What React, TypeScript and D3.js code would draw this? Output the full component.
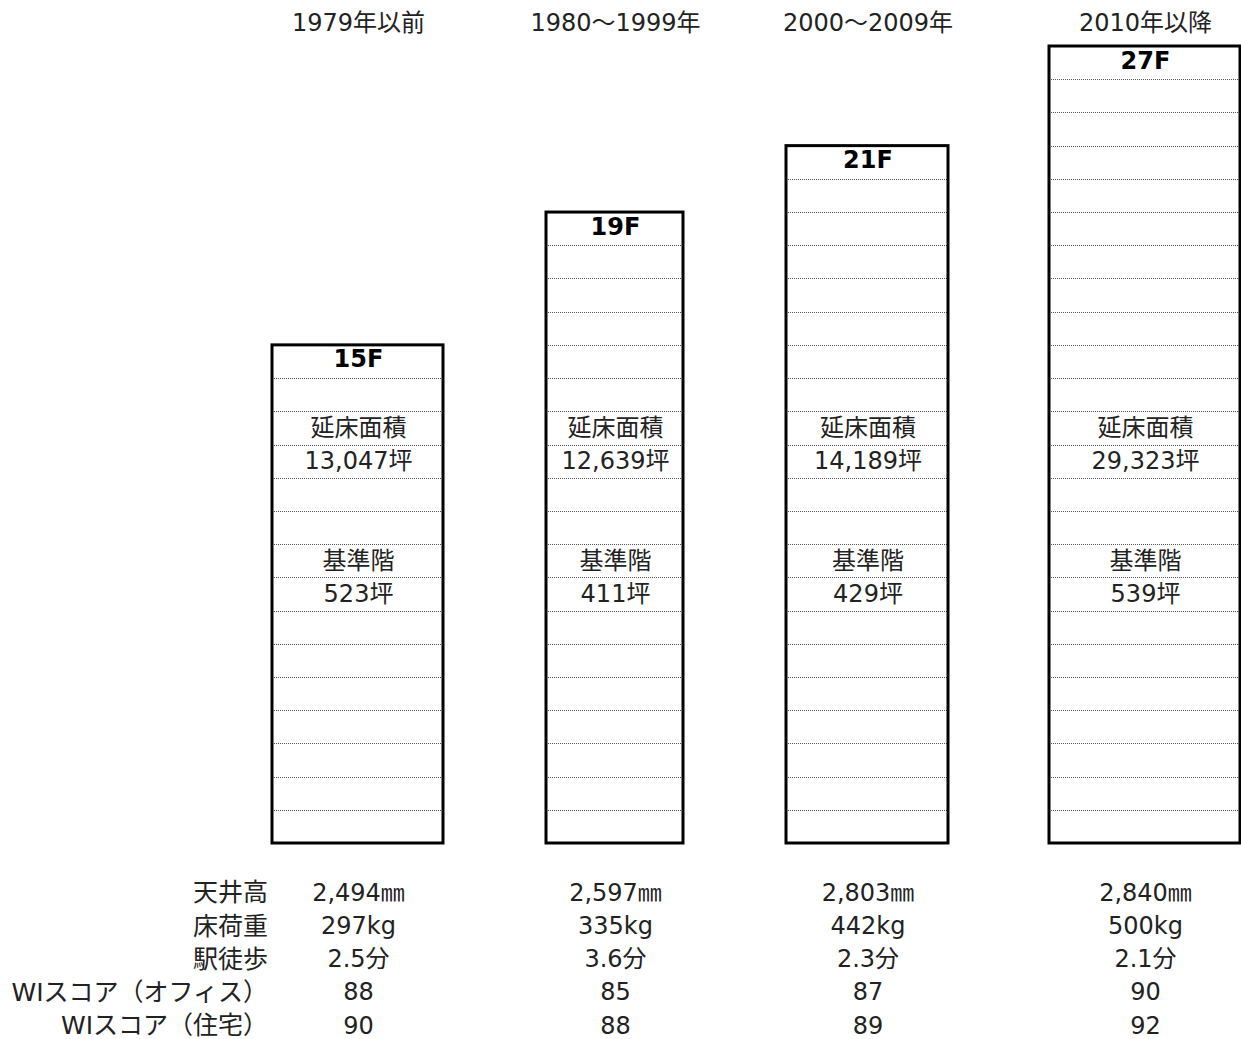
import * as React from 'react';
import * as d3 from 'd3';

// building eras and their figures
const ERAS = ['1979年以前', '1980～1999年', '2000～2009年', '2010年以降'];
const FLOORS = [15, 19, 21, 27];
const TOTAL_AREA = ['13,047坪', '12,639坪', '14,189坪', '29,323坪'];
const STD_FLOOR = ['523坪', '411坪', '429坪', '539坪'];

const TABLE_LABELS = ['天井高', '床荷重', '駅徒歩', 'WIスコア（オフィス）', 'WIスコア（住宅）'];
const CEILING = ['2,494㎜', '2,597㎜', '2,803㎜', '2,840㎜'];
const FLOOR_LOAD = ['297kg', '335kg', '442kg', '500kg'];
const WALK = ['2.5分', '3.6分', '2.3分', '2.1分'];
const WI_OFFICE = ['88', '85', '87', '90'];
const WI_HOUSE = ['90', '88', '89', '92'];
const TABLE_ROWS = [CEILING, FLOOR_LOAD, WALK, WI_OFFICE, WI_HOUSE];

// layout
const W = 1241;
const H = 1039;
const MAX_ROWS = 24;
const BASE_Y = 843;
const TOP_Y = 46;
const COL_LEFT = [272, 546, 786, 1049];
const COL_RIGHT = [443, 683, 948, 1240];
const LABEL_RIGHT = 268;
const FONT = '"DejaVu Sans", "Noto Sans CJK JP", sans-serif';

export default function App() {
  const y = d3.scaleLinear().domain([0, MAX_ROWS]).range([BASE_Y, TOP_Y]);
  const xLeft = d3.scaleOrdinal<string, number>().domain(ERAS).range(COL_LEFT);
  const xRight = d3.scaleOrdinal<string, number>().domain(ERAS).range(COL_RIGHT);
  const cx = (e: string) => (xLeft(e) + xRight(e)) / 2;
  const rowMid = (r: number) => (y(r) + y(r + 1)) / 2;
  // snap hairlines to the pixel grid so the dotted floors stay crisp
  const crisp = (v: number) => Math.round(v) + 0.5;

  return (
    <svg width={W} height={H} style={{ position: 'absolute', left: 0, top: 0, background: '#fff' }}
      fontFamily={FONT}>
      {/* era headers */}
      {ERAS.map(e => (
        <text key={e} x={cx(e) + 1} y={y(MAX_ROWS + 0.7)} textAnchor="middle" dominantBaseline="central"
          fontSize={24} fill="#222">{e}</text>
      ))}

      {ERAS.map((e, i) => {
        const rows = Math.min(FLOORS[i], MAX_ROWS);
        const x0 = xLeft(e);
        const x1 = xRight(e);
        const mid = cx(e);
        return (
          <g key={e}>
            <rect x={x0} y={y(rows)} width={x1 - x0} height={y(0) - y(rows)} fill="#fff" />
            {d3.range(1, rows).map(r => (
              <line key={r} x1={x0} x2={x1} y1={crisp(y(r))} y2={crisp(y(r))} stroke="#555"
                strokeWidth={1} strokeDasharray="1,1" />
            ))}
            <rect x={x0} y={y(rows)} width={x1 - x0} height={y(0) - y(rows)} fill="none"
              stroke="#000" strokeWidth={3} />
            <text x={mid + 1} y={rowMid(rows - 1) - 2} textAnchor="middle" dominantBaseline="central"
              fontSize={24} fontWeight="bold" fill="#000">{FLOORS[i]}F</text>
            <text x={mid + 1} y={rowMid(12)} textAnchor="middle" dominantBaseline="central"
              fontSize={24} fill="#222">延床面積</text>
            <text x={mid + 1} y={rowMid(11)} textAnchor="middle" dominantBaseline="central"
              fontSize={24} fill="#222">{TOTAL_AREA[i]}</text>
            <text x={mid + 1} y={rowMid(8)} textAnchor="middle" dominantBaseline="central"
              fontSize={24} fill="#222">基準階</text>
            <text x={mid + 1} y={rowMid(7)} textAnchor="middle" dominantBaseline="central"
              fontSize={24} fill="#222">{STD_FLOOR[i]}</text>
          </g>
        );
      })}

      {/* attribute table */}
      {TABLE_LABELS.map((l, j) => (
        <text key={l} x={LABEL_RIGHT} y={rowMid(-2 - j)} textAnchor="end" dominantBaseline="central"
          fontSize={25} fill="#222">{l}</text>
      ))}
      {TABLE_ROWS.map((vals, j) =>
        vals.map((v, i) => (
          <text key={j + '-' + i} x={cx(ERAS[i]) + 1} y={rowMid(-2 - j)} textAnchor="middle"
            dominantBaseline="central" fontSize={24} fill="#222">{v}</text>
        ))
      )}
    </svg>
  );
}
